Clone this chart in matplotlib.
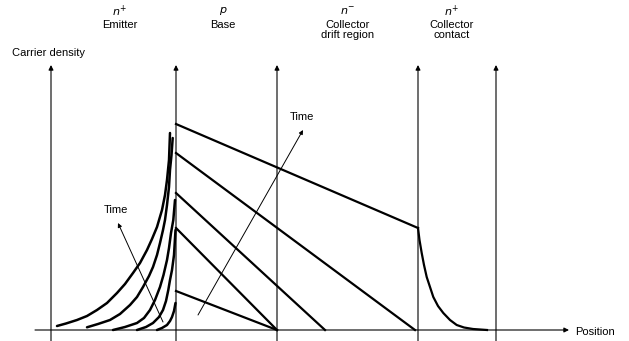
import matplotlib
matplotlib.use("Agg")
import matplotlib.pyplot as plt

plt.rcParams["font.family"] = ["Liberation Sans", "DejaVu Sans"]

# positions of the region boundaries (vertical axes) and their top
boundaries = [51, 176, 277, 418, 496]
axis_top = 265

# region labels: (doping, name)
region_x = [120, 223, 348, 452]
region_doping = ["n^{+}", "p", "n^{-}", "n^{+}"]
region_names = ["Emitter", "Base", "Collector\ndrift region", "Collector\ncontact"]

# base: straight profiles, density at emitter side -> (end position, end density)
base_start = [206, 177, 137, 102, 39]
base_end_x = [418, 415, 325, 277, 277]
base_end_y = [102, 0, 0, 0, 0]

# emitter: stored charge profiles (position, density)
emitter_x = [
    [57, 66, 77, 87, 97, 107, 117, 125, 133, 140, 147, 152, 157, 162, 165, 167, 169, 170],
    [87, 98, 110, 120, 130, 137, 143, 149, 153, 157, 160, 163, 165, 167, 169, 170, 171.5, 172.7],
    [113, 125, 137, 144, 150, 155, 160, 163.5, 167, 169, 171, 173.3, 175],
    [137, 146, 153, 159, 163, 166, 168.3, 170, 172, 174, 175.5],
    [157, 162, 167, 170, 172, 174, 175.5],
]
emitter_y = [
    [4, 6.5, 10, 14, 20, 27, 37, 46, 57, 67, 80, 91, 103, 120, 135, 150, 170, 197],
    [2.7, 6, 10, 16, 25, 33, 43, 54, 63, 75, 87, 100, 110, 125, 143, 160, 175, 192],
    [0, 3, 7, 12, 20, 30, 43, 55, 70, 82, 97, 110, 130],
    [0, 3, 7, 13, 20, 29, 40, 50, 60, 75, 100],
    [0, 2, 5, 9, 13, 19, 27],
]

# collector contact decay
coll_x = [418, 419.5, 421.7, 424, 426.7, 430, 433.3, 438, 443.3, 450, 456.7, 464, 473, 487]
coll_y = [102, 90, 77, 65, 53, 43, 33, 24, 17, 10, 5, 2.5, 1, 0]

fig = plt.figure(figsize=(6.29, 3.41), dpi=100)
ax = fig.add_axes([0, 0, 1, 1])
ax.set_xlim(0, 629)
ax.set_ylim(-11, 330)
ax.axis("off")

arrow = dict(arrowstyle="-|>", lw=0.8, color="black", mutation_scale=7,
             shrinkA=0, shrinkB=0)

# vertical axes with arrowheads
for bx in boundaries:
    ax.annotate("", xy=(bx, axis_top), xytext=(bx, -12), arrowprops=arrow)

# position axis
ax.annotate("", xy=(569, 0), xytext=(35, 0), arrowprops=arrow)
ax.text(575, -2, "Position", fontsize=8, ha="left", va="center")
ax.text(12, 277, "Carrier density", fontsize=8, ha="left", va="center")

for x, dop, name in zip(region_x, region_doping, region_names):
    ax.text(x, 319, "$" + dop + "$", fontsize=8, ha="center", va="center")
    ax.text(x, 310, name, fontsize=8, ha="center", va="top", linespacing=1.0)

# profiles
for xs, ys in zip(emitter_x, emitter_y):
    ax.plot(xs, ys, color="black", lw=1.8, solid_capstyle="round",
            solid_joinstyle="round")
for y0, x1, y1 in zip(base_start, base_end_x, base_end_y):
    ax.plot([boundaries[1], x1], [y0, y1], color="black", lw=1.6)
ax.plot(coll_x, coll_y, color="black", lw=1.6, solid_joinstyle="round")

# time arrows
thin = dict(arrowstyle="-|>", lw=0.7, color="black", mutation_scale=6,
            shrinkA=0, shrinkB=0)
ax.annotate("", xy=(303, 200), xytext=(198, 15), arrowprops=thin)
ax.text(302, 213, "Time", fontsize=8, ha="center", va="center")
ax.annotate("", xy=(118, 107), xytext=(163, 8), arrowprops=thin)
ax.text(116, 120, "Time", fontsize=8, ha="center", va="center")

fig.savefig("out.png", dpi=100)
